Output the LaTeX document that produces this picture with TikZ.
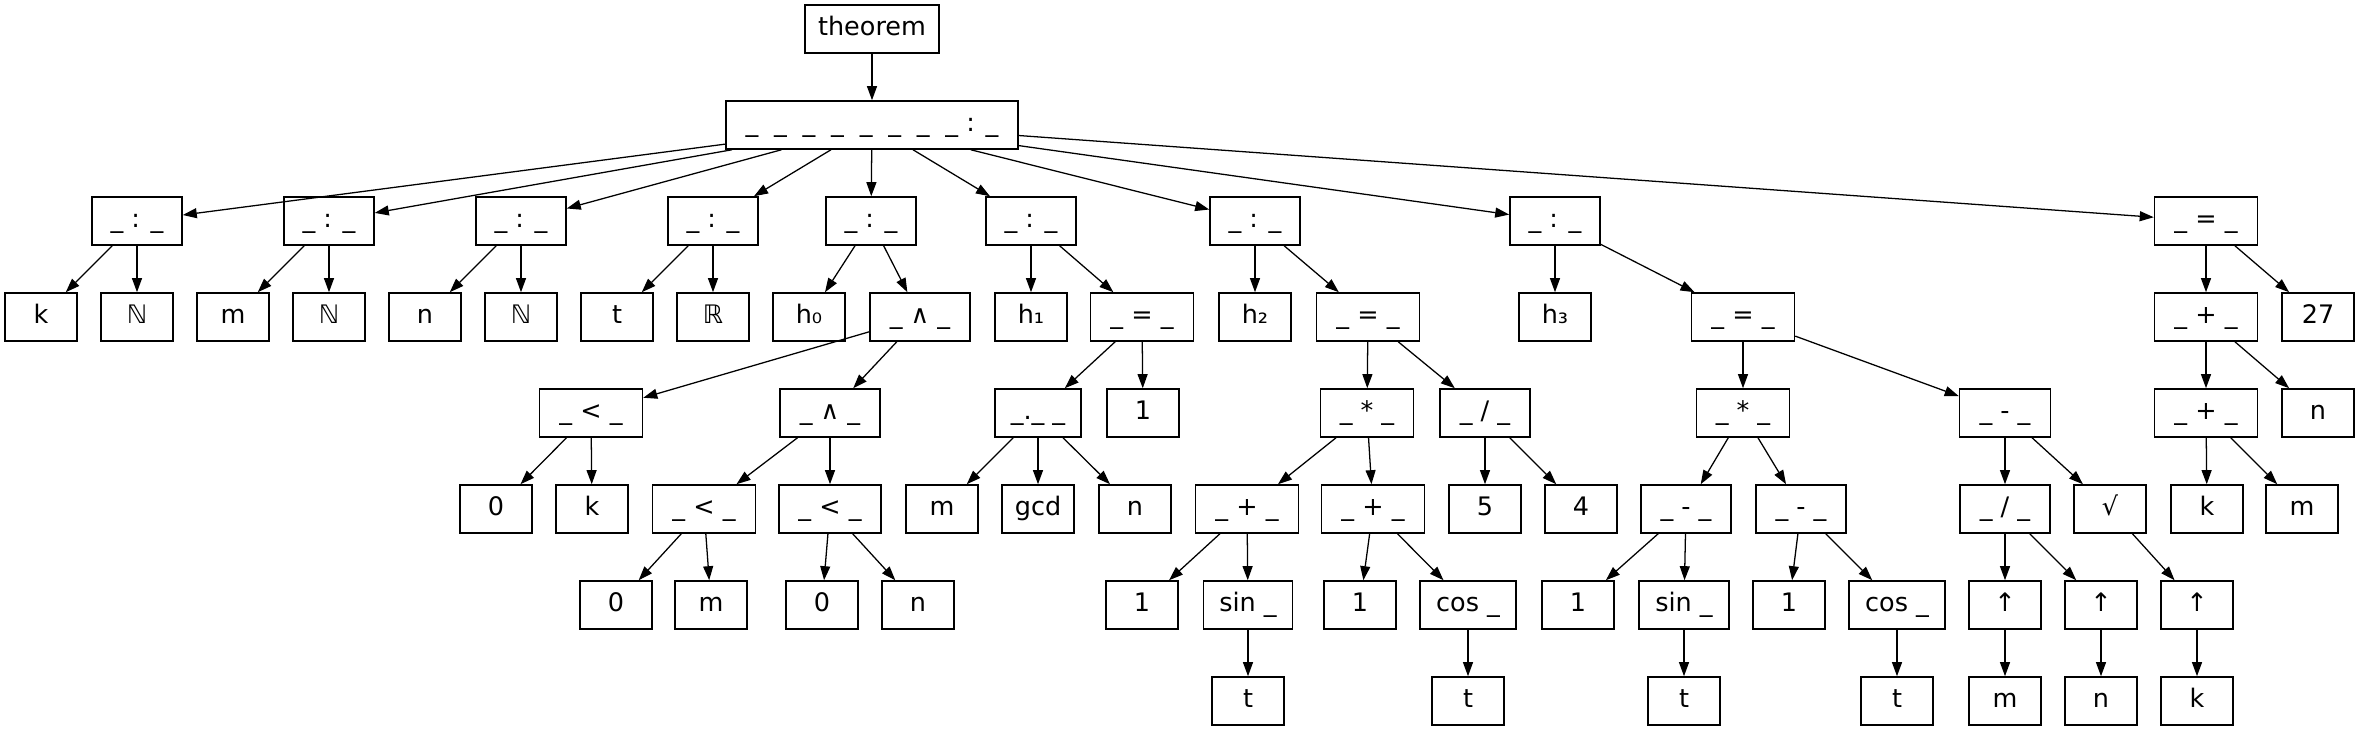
\documentclass[tikz,border=0pt]{standalone}
\usepackage{fontspec}
\setmainfont{DejaVu Sans}
\usetikzlibrary{arrows.meta}
\newcommand{\ugap}{\_\hspace{0.62em}}

\begin{document}
\begin{tikzpicture}[x=0.3922pt, y=-0.3922pt,
    tok/.style={draw, line width=0.6pt, inner sep=0pt, minimum width=28.24pt,
        minimum height=18.83pt, text height=0.76em, text depth=0.24em,
        font=\fontsize{10}{12}\selectfont},
    wd/.style={minimum width=#1*0.3922pt},
    edge/.style={-{Triangle[length=5.5pt, width=3.9pt]}, line width=0.5pt}]
    \useasboundingbox (0,0) rectangle (2360,731);

    % --- top ---
    \node[tok, wd=134] (thm) at (872,29) {theorem};
    \node[tok, wd=292] (fa) at (872,125) {\ugap\ugap\ugap\ugap\ugap\ugap\ugap\_ : \_};

    % --- binders and goal ---
    \node[tok, wd=90] (bk) at (137,221) {\_ : \_};
    \node[tok, wd=90] (bm) at (329,221) {\_ : \_};
    \node[tok, wd=90] (bn) at (521,221) {\_ : \_};
    \node[tok, wd=90] (bt) at (713,221) {\_ : \_};
    \node[tok, wd=90] (bh0) at (871,221) {\_ : \_};
    \node[tok, wd=90] (bh1) at (1031,221) {\_ : \_};
    \node[tok, wd=90] (bh2) at (1255,221) {\_ : \_};
    \node[tok, wd=90] (bh3) at (1555,221) {\_ : \_};
    \node[tok, wd=103] (goal) at (2206,221) {\_ = \_};

    % --- row 3 ---
    \node[tok] (vk) at (41,317) {k};
    \node[tok] (tk) at (137,317) {ℕ};
    \node[tok] (vm) at (233,317) {m};
    \node[tok] (tm) at (329,317) {ℕ};
    \node[tok] (vn) at (425,317) {n};
    \node[tok] (tn) at (521,317) {ℕ};
    \node[tok] (vt) at (617,317) {t};
    \node[tok] (tt) at (713,317) {ℝ};
    \node[tok] (vh0) at (809,317) {h₀};
    \node[tok, wd=100] (and0) at (920,317) {\_ ∧ \_};
    \node[tok] (vh1) at (1031,317) {h₁};
    \node[tok, wd=103] (eq1) at (1142,317) {\_ = \_};
    \node[tok] (vh2) at (1255,317) {h₂};
    \node[tok, wd=103] (eq2) at (1368,317) {\_ = \_};
    \node[tok] (vh3) at (1555,317) {h₃};
    \node[tok, wd=103] (eq3) at (1743,317) {\_ = \_};
    \node[tok, wd=103] (add1) at (2206,317) {\_ + \_};
    \node[tok] (c27) at (2318,317) {27};

    % --- row 4 ---
    \node[tok, wd=103] (lt0) at (591,413) {\_ < \_};
    \node[tok, wd=100] (and1) at (830,413) {\_ ∧ \_};
    \node[tok, wd=86] (gcdapp) at (1038,413) {\_.\_ \_};
    \node[tok] (one1) at (1143,413) {1};
    \node[tok, wd=93] (mul2) at (1367,413) {\_ * \_};
    \node[tok, wd=90] (div2) at (1485,413) {\_ / \_};
    \node[tok, wd=93] (mul3) at (1743,413) {\_ * \_};
    \node[tok, wd=91] (sub3) at (2005,413) {\_ - \_};
    \node[tok, wd=103] (add2) at (2206,413) {\_ + \_};
    \node[tok] (n4) at (2318,413) {n};

    % --- row 5 ---
    \node[tok] (z0) at (496,509) {0};
    \node[tok] (k5) at (592,509) {k};
    \node[tok, wd=103] (lt1) at (704,509) {\_ < \_};
    \node[tok, wd=102] (lt2) at (830,509) {\_ < \_};
    \node[tok] (m5) at (942,509) {m};
    \node[tok] (gcd) at (1038,509) {gcd};
    \node[tok] (n5) at (1135,509) {n};
    \node[tok, wd=103] (add3) at (1247,509) {\_ + \_};
    \node[tok, wd=103] (add4) at (1373,509) {\_ + \_};
    \node[tok] (five) at (1485,509) {5};
    \node[tok] (four) at (1581,509) {4};
    \node[tok, wd=90] (sub4) at (1686,509) {\_ - \_};
    \node[tok, wd=90] (sub5) at (1801,509) {\_ - \_};
    \node[tok, wd=90] (div3) at (2005,509) {\_ / \_};
    \node[tok] (sqrt) at (2110,509) {√};
    \node[tok] (k6) at (2207,509) {k};
    \node[tok] (m6) at (2302,509) {m};

    % --- row 6 ---
    \node[tok] (z1) at (616,605) {0};
    \node[tok] (m7) at (711,605) {m};
    \node[tok] (z2) at (822,605) {0};
    \node[tok] (n7) at (918,605) {n};
    \node[tok] (one2) at (1142,605) {1};
    \node[tok, wd=89] (sin1) at (1248,605) {sin \_};
    \node[tok] (one3) at (1360,605) {1};
    \node[tok, wd=96] (cos1) at (1468,605) {cos \_};
    \node[tok] (one4) at (1578,605) {1};
    \node[tok, wd=90] (sin2) at (1684,605) {sin \_};
    \node[tok] (one5) at (1789,605) {1};
    \node[tok, wd=96] (cos2) at (1897,605) {cos \_};
    \node[tok] (up1) at (2005,605) {↑};
    \node[tok] (up2) at (2101,605) {↑};
    \node[tok] (up3) at (2197,605) {↑};

    % --- row 7 ---
    \node[tok] (t1) at (1248,701) {t};
    \node[tok] (t2) at (1468,701) {t};
    \node[tok] (t3) at (1684,701) {t};
    \node[tok] (t4) at (1897,701) {t};
    \node[tok] (m8) at (2005,701) {m};
    \node[tok] (n8) at (2101,701) {n};
    \node[tok] (k8) at (2197,701) {k};

    % --- edges ---
    \foreach \a/\b in {thm/fa, fa/bk, fa/bm, fa/bn, fa/bt, fa/bh0, fa/bh1, fa/bh2, fa/bh3, fa/goal,
        bk/vk, bk/tk, bm/vm, bm/tm, bn/vn, bn/tn, bt/vt, bt/tt,
        bh0/vh0, bh0/and0, bh1/vh1, bh1/eq1, bh2/vh2, bh2/eq2, bh3/vh3, bh3/eq3,
        goal/add1, goal/c27,
        and0/lt0, and0/and1, eq1/gcdapp, eq1/one1, eq2/mul2, eq2/div2,
        eq3/mul3, eq3/sub3, add1/add2, add1/n4,
        lt0/z0, lt0/k5, and1/lt1, and1/lt2, gcdapp/m5, gcdapp/gcd, gcdapp/n5,
        mul2/add3, mul2/add4, div2/five, div2/four, mul3/sub4, mul3/sub5,
        sub3/div3, sub3/sqrt, add2/k6, add2/m6,
        lt1/z1, lt1/m7, lt2/z2, lt2/n7, add3/one2, add3/sin1, add4/one3, add4/cos1,
        sub4/one4, sub4/sin2, sub5/one5, sub5/cos2, div3/up1, div3/up2, sqrt/up3,
        sin1/t1, cos1/t2, sin2/t3, cos2/t4, up1/m8, up2/n8, up3/k8}{
        \draw[edge] (\a) -- (\b);
    }
\end{tikzpicture}
\end{document}
